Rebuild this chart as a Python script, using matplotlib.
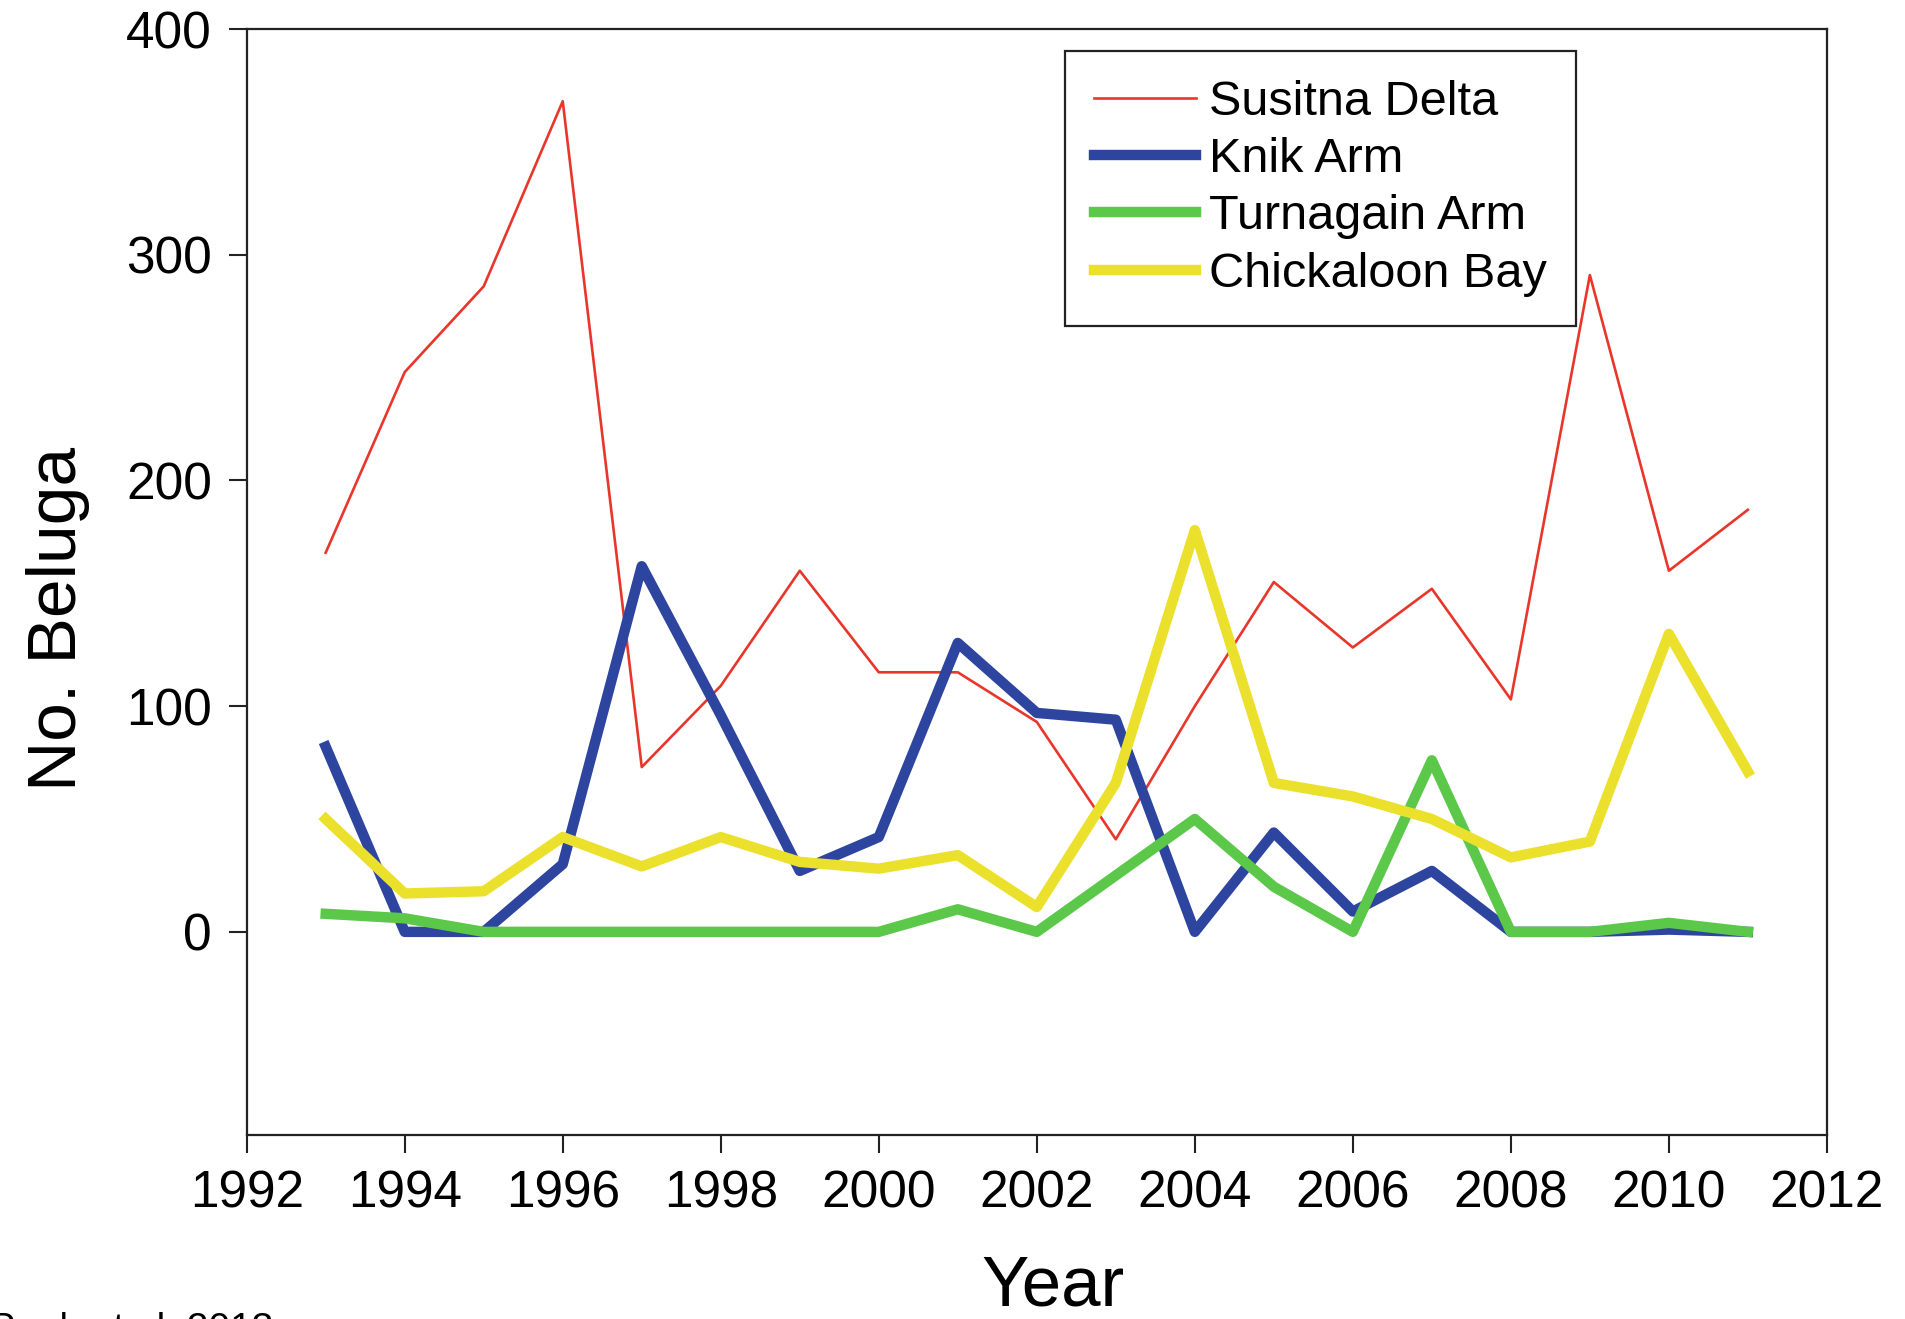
import numpy as np
import matplotlib
matplotlib.use('Agg')
import matplotlib.pyplot as plt

plt.rcParams['font.family'] = ['Liberation Sans', 'DejaVu Sans']

# Survey years and beluga counts per area
years = list(range(1993, 2012))
susitna_delta = [168, 248, 286, 368, 73, 109, 160, 115, 115, 93, 41, 100, 155, 126, 152, 103, 291, 160, 187]
knik_arm = [82, 0, 0, 30, 162, 96, 27, 42, 128, 97, 94, 0, 44, 9, 27, 0, 0, 1, 0]
turnagain_arm = [8, 6, 0, 0, 0, 0, 0, 0, 10, 0, 25, 50, 20, 0, 76, 0, 0, 4, 0]
chickaloon_bay = [50, 17, 18, 42, 29, 42, 31, 28, 34, 11, 66, 178, 66, 60, 50, 33, 40, 132, 71]

x_ticks = list(range(1992, 2013, 2))
y_ticks = [0, 100, 200, 300, 400]

# Plot
fig = plt.figure(figsize=(19.05, 13.19), dpi=100)
ax = fig.add_axes([0.1295, 0.1395, 0.8295, 0.8385])

ax.plot(years, susitna_delta, color='#e8362b', lw=1.9, label='Susitna Delta')
ax.plot(years, knik_arm, color='#2e45a0', lw=7.5, label='Knik Arm')
ax.plot(years, turnagain_arm, color='#5bc84a', lw=7.5, label='Turnagain Arm')
ax.plot(years, chickaloon_bay, color='#ebe12c', lw=7.5, label='Chickaloon Bay')

ax.set_xlim(1992, 2012)
ax.set_ylim(-90, 400)
ax.set_xticks(x_ticks)
ax.set_yticks(y_ticks)
ax.tick_params(axis='both', direction='out', length=13, width=1.5,
               labelsize=37, pad=12, color='#222222', top=False, right=False)
for sp in ax.spines.values():
    sp.set_linewidth(1.6)
    sp.set_color('#222222')

ax.set_xlabel('Year', fontsize=51)
ax.xaxis.set_label_coords(0.51, -0.108)
ax.set_ylabel('No. Beluga', fontsize=50)
ax.yaxis.set_label_coords(-0.099, 0.467)

leg = ax.legend(loc='upper left', bbox_to_anchor=(1065 / 1905, 1 - 51 / 1319),
                bbox_transform=fig.transFigure, borderaxespad=0,
                fontsize=35, handlelength=2.1, handletextpad=0.27,
                labelspacing=0.25, borderpad=0.6, fancybox=False, framealpha=1)
leg.get_frame().set_edgecolor('#222222')
leg.get_frame().set_linewidth(1.6)

# source note, cut off at the bottom edge like in the original
fig.text(273 / 1905, 1 - 1340 / 1319, 'Rugh et al. 2013', fontsize=28,
         ha='right', va='baseline')

fig.savefig('out.png', dpi=100)
